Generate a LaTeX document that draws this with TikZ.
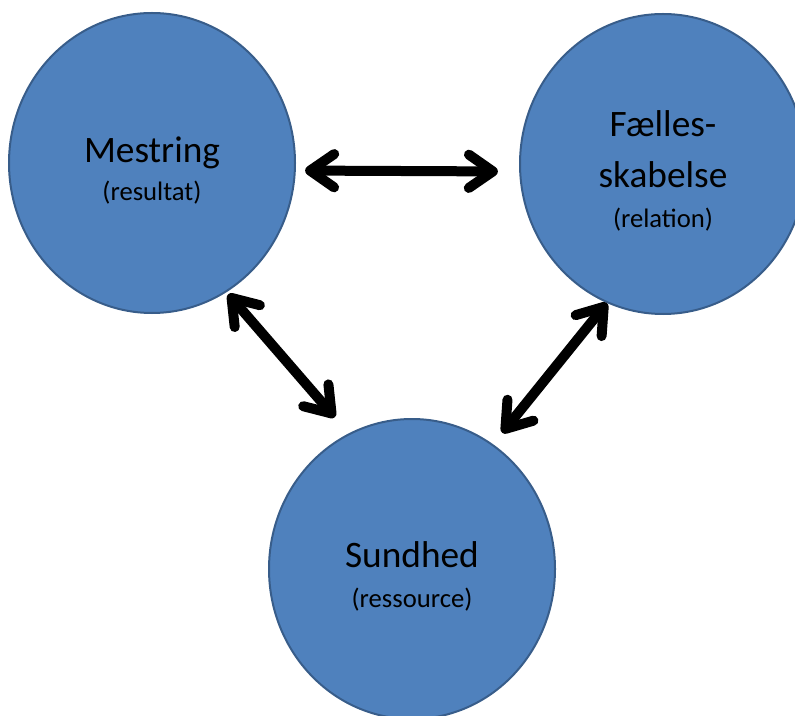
\documentclass[tikz,border=0pt]{standalone}
\usepackage{fontspec}
\setmainfont{Carlito}
\usetikzlibrary{shapes.geometric,arrows.meta}
\definecolor{bol}{HTML}{4F81BD}
\definecolor{rand}{HTML}{385D8A}
\newcommand{\op}{\rule{0pt}{30pt}}
\begin{document}
\begin{tikzpicture}[x=0.75pt,y=-0.75pt,
	no/.style={ellipse,minimum width=214.5pt,minimum height=225pt,inner sep=0pt,fill=bol,draw=rand,line width=1.5pt,align=center,font=\fontsize{28}{38}\selectfont},
	pil/.style={line width=7.5pt,{Straight Barb[length=18pt,width=25pt,round]}-{Straight Barb[length=18pt,width=25pt,round]}}]
	\useasboundingbox (0,0) rectangle (795,716);
	\clip (0,0) rectangle (795,716);
			\node(c1)[no] at (152,163) {\op Mestring\\[-9.5pt]{\fontsize{20}{24}\selectfont (resultat)}};
			\node(c2)[no] at (663,164) {\op Fælles-\\skabelse\\[-8pt]{\fontsize{20}{24}\selectfont (relation)}};
			\node(c3)[no] at (412,569) {\op Sundhed\\[-8pt]{\fontsize{20}{24}\selectfont (ressource)}};
			\draw[pil,shorten <=7pt,shorten >=16pt] (c1.357) -- (c2.183);
			\draw[pil,shorten <=2pt,shorten >=16pt] (c1.300) -- (c3.115);
			\draw[pil,shorten <=11pt] (c3.57) -- (c2.248);
\end{tikzpicture}
\end{document}
